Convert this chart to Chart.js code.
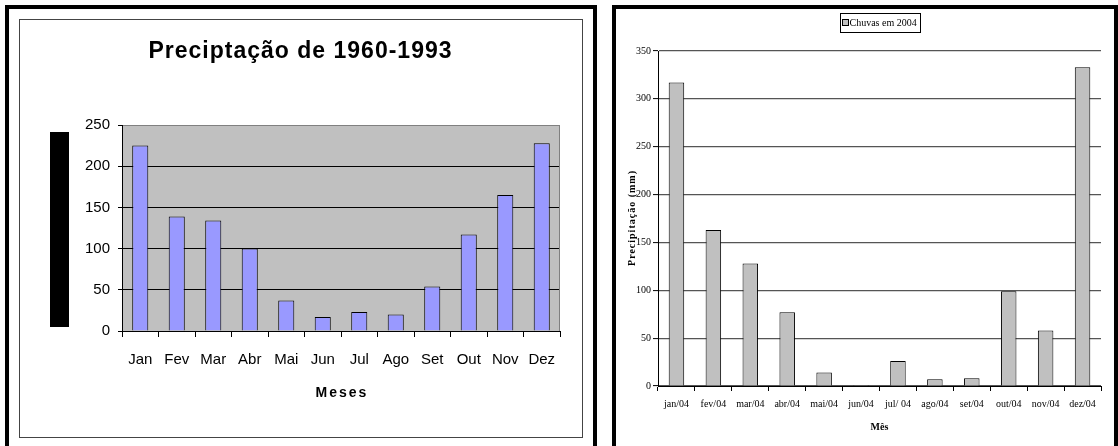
<!DOCTYPE html>
<html>
<head>
<meta charset="utf-8">
<title>Precipitação</title>
<script src="https://cdn.jsdelivr.net/npm/chart.js@4.4.1/dist/chart.umd.min.js"></script>
<style>
  html, body { margin: 0; padding: 0; background: #fff; }
  body { position: relative; width: 1118px; height: 446px; overflow: hidden; }
  .frame { position: absolute; box-sizing: border-box; border: 4px solid #000; border-bottom: none; }
  #frameLeft { left: 5px; top: 5px; width: 592px; height: 441px; }
  #frameRight { left: 612px; top: 5px; width: 506px; height: 441px; }
  #innerLeft { position: absolute; left: 19px; top: 19px; width: 564px; height: 419px;
               box-sizing: border-box; border: 1px solid #444; }
  canvas { position: absolute; top: 0; }
  #chartMedia { left: 0; }
  #chart2004 { left: 600px; }
</style>
</head>
<body>
<div class="frame" id="frameLeft"></div>
<div id="innerLeft"></div>
<div class="frame" id="frameRight"></div>
<canvas id="chartMedia" width="600" height="446"></canvas>
<canvas id="chart2004" width="518" height="446"></canvas>
<script>
// Monthly averages 1960-1993 (mm)
const mesesCurtos = ['Jan', 'Fev', 'Mar', 'Abr', 'Mai', 'Jun', 'Jul', 'Ago', 'Set', 'Out', 'Nov', 'Dez'];
const mediaMensal = [225, 139, 134, 100, 37, 17, 23, 20, 54, 117, 165, 228];
const escalaMedia = { min: 0, max: 250, step: 50 };

// Rainfall in 2004 (mm)
const meses2004 = ['jan/04', 'fev/04', 'mar/04', 'abr/04', 'mai/04', 'jun/04', 'jul/ 04', 'ago/04', 'set/04', 'out/04', 'nov/04', 'dez/04'];
const chuvas2004 = [317, 163, 128, 77, 14, 1, 26, 7, 8, 99, 58, 333];
const escala2004 = { min: 0, max: 350, step: 50 };

const ARIAL = "Arial, 'Liberation Sans', sans-serif";
const TIMES = "'Times New Roman', 'Liberation Serif', serif";

Chart.defaults.animation = false;
Chart.defaults.color = '#000';

function drawText(ctx, t) {
  ctx.save();
  ctx.font = t.font;
  ctx.fillStyle = '#000';
  ctx.textAlign = 'center';
  ctx.textBaseline = 'middle';
  if ('letterSpacing' in ctx) ctx.letterSpacing = (t.spacing || 0) + 'px';
  ctx.translate(t.x, t.y);
  if (t.rot) ctx.rotate(t.rot);
  ctx.fillText(t.text, (t.spacing || 0) / 2, 0);
  ctx.restore();
}

// Grey plot background, plot border and the annotation texts of the left chart
const decorMedia = {
  id: 'decorMedia',
  beforeDraw(chart) {
    const { ctx, chartArea: a } = chart;
    ctx.save();
    ctx.fillStyle = '#C0C0C0';
    ctx.fillRect(a.left, a.top, a.right - a.left, a.bottom - a.top);
    ctx.restore();
  },
  afterDraw(chart) {
    const { ctx, chartArea: a } = chart;
    ctx.save();
    ctx.strokeStyle = '#808080';
    ctx.lineWidth = 1;
    ctx.beginPath();
    ctx.moveTo(a.right - 0.5, a.top);
    ctx.lineTo(a.right - 0.5, a.bottom);
    ctx.stroke();
    // axis title box
    ctx.fillStyle = '#000';
    ctx.fillRect(50, 132, 19, 195);
    ctx.restore();
    drawText(ctx, { text: 'Preciptação de 1960-1993', x: 300, y: 52, font: 'bold 23px ' + ARIAL, spacing: 1 });
    drawText(ctx, { text: 'Meses', x: (a.left + a.right) / 2, y: 393, font: 'bold 14px ' + ARIAL, spacing: 2 });
  }
};

new Chart(document.getElementById('chartMedia'), {
  type: 'bar',
  data: {
    labels: mesesCurtos,
    datasets: [{
      label: 'Precipitação média',
      data: mediaMensal,
      backgroundColor: '#9999FF',
      borderColor: '#000',
      borderWidth: 1,
      categoryPercentage: 1,
      barPercentage: 0.44
    }]
  },
  options: {
    responsive: false,
    layout: { padding: { left: 0, right: 40, top: 125, bottom: 0 } },
    plugins: { legend: { display: false }, title: { display: false }, tooltip: { enabled: false } },
    scales: {
      x: {
        afterFit(scale) { scale.height = 115; },
        grid: { drawOnChartArea: false, drawTicks: true, tickLength: 6, color: '#000', tickColor: '#000' },
        border: { display: true, color: '#000', width: 1 },
        ticks: { font: { family: ARIAL, size: 15 }, color: '#000', padding: 14, maxRotation: 0, autoSkip: false }
      },
      y: {
        min: escalaMedia.min,
        max: escalaMedia.max,
        afterFit(scale) { scale.width = 122; },
        grid: {
          color: c => (c.tick && c.tick.value === escalaMedia.max ? '#808080' : '#000'),
          tickColor: '#000',
          drawTicks: true,
          tickLength: 4
        },
        border: { display: true, color: '#000', width: 1 },
        ticks: { stepSize: escalaMedia.step, font: { family: ARIAL, size: 15 }, color: '#000', padding: 8 }
      }
    }
  },
  plugins: [decorMedia]
});

// Legend box and axis titles of the right chart
const decor2004 = {
  id: 'decor2004',
  afterDraw(chart) {
    const { ctx, chartArea: a } = chart;
    const ds = chart.data.datasets[0];
    const cx = (a.left + a.right) / 2;
    ctx.save();
    ctx.font = '10px ' + TIMES;
    const tw = ctx.measureText(ds.label).width;
    const w = Math.round(tw + 13);
    const left = Math.round(cx - w / 2) + 0.5;
    const top = 13.5;
    ctx.fillStyle = '#fff';
    ctx.fillRect(left, top, w, 19);
    ctx.strokeStyle = '#000';
    ctx.lineWidth = 1;
    ctx.strokeRect(left, top, w, 19);
    ctx.fillStyle = ds.backgroundColor;
    ctx.fillRect(left + 2, 20, 6, 6);
    ctx.strokeRect(left + 2, 19.5, 6, 6);
    ctx.fillStyle = '#000';
    ctx.textBaseline = 'middle';
    ctx.textAlign = 'left';
    ctx.fillText(ds.label, left + 9, top + 9.5);
    ctx.restore();
    drawText(ctx, { text: 'Precipitação (mm)', x: 32, y: (a.top + a.bottom) / 2, font: 'bold 10px ' + TIMES, spacing: 1, rot: -Math.PI / 2 });
    drawText(ctx, { text: 'Mês', x: cx, y: 427, font: 'bold 10px ' + TIMES });
  }
};

new Chart(document.getElementById('chart2004'), {
  type: 'bar',
  data: {
    labels: meses2004,
    datasets: [{
      label: 'Chuvas em 2004',
      data: chuvas2004,
      backgroundColor: '#C0C0C0',
      borderColor: '#000',
      borderWidth: 1,
      categoryPercentage: 1,
      barPercentage: 0.42
    }]
  },
  options: {
    responsive: false,
    layout: { padding: { left: 0, right: 17, top: 51, bottom: 0 } },
    plugins: { legend: { display: false }, title: { display: false }, tooltip: { enabled: false } },
    scales: {
      x: {
        afterFit(scale) { scale.height = 60; },
        grid: { drawOnChartArea: false, drawTicks: true, tickLength: 5, color: '#000', tickColor: '#000' },
        border: { display: true, color: '#000', width: 1 },
        ticks: { font: { family: TIMES, size: 10 }, color: '#000', padding: 7, maxRotation: 0, autoSkip: false }
      },
      y: {
        min: escala2004.min,
        max: escala2004.max,
        afterFit(scale) { scale.width = 58; },
        grid: { color: '#555', lineWidth: 1.2, tickColor: '#000', tickWidth: 1, drawTicks: true, tickLength: 5 },
        border: { display: true, color: '#000', width: 1 },
        ticks: { stepSize: escala2004.step, font: { family: TIMES, size: 10 }, color: '#000', padding: 2 }
      }
    }
  },
  plugins: [decor2004]
});
</script>
</body>
</html>
